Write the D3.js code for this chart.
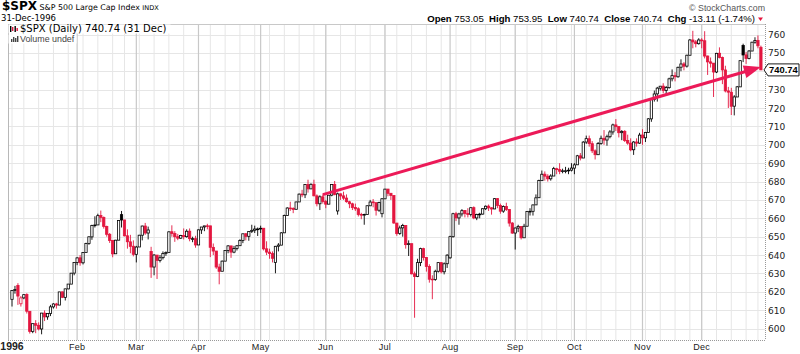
<!DOCTYPE html>
<html><head><meta charset="utf-8">
<script src="https://cdn.jsdelivr.net/npm/d3@7/dist/d3.min.js"></script>
<style>body{margin:0;background:#fff}svg{display:block}</style>
</head><body>
<svg id="c" width="800" height="354"></svg>
<script>
// ---- data ----
const holidays = ["1996-01-01","1996-02-19","1996-04-05","1996-05-27","1996-07-04","1996-09-02","1996-11-28","1996-12-25"];
const opens = [
615.93,620.73,623.50,613.50,616.70,618.50,609.40,598.50,602.70,601.80,599.80,608.40,606.40,608.20,611.80,613.40,612.80,620.00,617.00,621.60,624.20,630.20,
636.00,638.50,635.80,641.40,646.30,649.90,656.10,656.40,661.50,660.50,655.60,651.30,648.00,640.70,648.10,662.00,659.10,650.50,647.20,644.80,
640.40,644.40,650.80,655.80,652.00,642.00,633.50,640.00,637.10,638.60,640.90,641.40,652.70,651.70,650.00,649.20,650.60,650.00,653.00,648.90,648.90,
645.50,653.70,655.30,655.90,655.90,644.20,642.20,633.50,631.20,636.70,642.50,645.00,641.60,643.60,645.10,647.90,651.60,650.20,652.90,653.50,654.20,
654.20,654.60,643.40,641.60,640.80,636.00,644.80,645.40,652.10,661.50,665.60,665.40,664.90,668.90,673.20,672.80,678.40,676.00,678.50,672.20,667.90,671.70,
669.10,667.70,672.60,678.40,664.00,673.30,672.20,671.00,669.00,667.90,665.90,665.20,662.10,662.00,662.10,666.80,668.90,668.50,664.40,662.50,
670.60,675.90,673.60,672.40,657.40,651.70,654.80,656.10,645.70,646.20,629.80,628.40,635.90,643.50,638.70,633.80,626.90,626.70,631.20,635.90,630.90,635.30,
638.50,650.00,662.50,660.20,662.40,664.20,662.60,662.10,665.80,660.20,662.10,662.30,665.20,666.60,665.70,665.10,670.70,667.00,663.90,666.40,664.80,657.40,
652.00,654.70,655.60,649.40,655.70,663.80,663.80,667.30,671.20,680.50,684.00,682.90,681.50,683.00,687.00,686.50,685.60,685.80,685.90,686.20,
687.30,689.10,694.00,692.80,701.50,703.30,700.60,696.70,694.60,700.70,703.50,702.60,704.40,707.00,710.80,709.90,706.60,707.30,702.30,700.90,697.30,701.50,700.90,
705.30,703.80,706.70,714.10,724.60,727.70,730.80,731.90,729.60,731.10,735.90,737.60,737.00,742.20,744.00,742.80,748.70,757.00,756.00,755.00,
757.00,756.60,748.30,745.10,744.40,739.60,749.80,747.50,740.70,729.30,728.60,721.00,726.00,731.50,754.00,748.90,746.90,751.00,755.80,756.80,753.05];
const highs = [
620.74,623.25,624.70,617.70,618.70,619.20,609.40,602.70,604.60,603.40,608.50,609.90,608.30,612.90,613.80,614.00,620.00,620.10,621.70,624.20,630.30,636.20,
638.80,640.00,641.60,646.70,650.20,656.50,661.10,662.50,664.20,661.00,656.00,652.00,648.00,648.30,658.90,664.00,659.10,654.00,651.00,648.00,
645.00,651.00,656.00,657.50,655.50,644.50,640.50,640.00,640.00,642.00,642.00,652.90,656.20,653.00,651.50,651.00,654.50,654.00,654.50,650.00,650.50,
653.90,655.30,655.90,657.00,655.90,646.30,642.20,635.30,637.00,642.50,645.40,645.00,645.00,645.50,648.60,651.60,652.00,653.00,656.50,656.00,655.00,
656.00,654.60,647.50,643.50,642.00,645.00,646.50,652.50,662.00,666.00,669.00,666.00,669.00,673.50,675.50,678.50,681.00,679.00,681.00,673.00,672.50,673.00,
670.00,672.70,678.50,680.30,674.00,673.50,674.50,673.00,669.50,668.50,668.00,666.00,663.00,662.50,667.00,670.00,670.50,668.50,669.00,671.00,
676.00,676.00,673.80,672.40,657.50,656.00,657.00,656.10,648.00,646.20,631.00,638.00,644.00,644.00,638.80,635.00,629.00,632.00,636.00,636.00,636.00,640.50,
650.50,663.00,663.50,663.00,665.00,664.50,665.50,666.00,666.50,662.50,663.00,665.50,667.00,667.50,666.00,671.00,671.00,668.00,667.00,668.50,665.00,658.00,
655.00,656.50,655.60,657.00,664.00,665.50,667.50,673.00,681.00,686.00,685.50,684.00,684.00,688.00,687.50,690.00,687.00,688.00,687.50,690.00,
690.00,694.50,695.50,702.00,705.00,705.00,702.00,697.50,701.50,705.00,708.00,705.50,708.00,711.50,714.00,710.00,708.00,708.00,705.50,703.50,702.00,703.50,706.50,
708.50,707.00,714.50,725.00,729.50,731.50,732.00,733.50,732.00,736.50,741.00,739.50,742.50,746.50,745.00,749.00,757.50,762.00,757.00,758.00,
758.00,761.80,748.50,747.50,744.50,750.00,753.00,748.00,743.00,731.50,731.00,727.00,732.00,746.00,755.00,750.50,751.50,756.00,758.50,759.50,753.95];
const lows = [
612.00,619.00,612.90,612.00,616.00,608.20,597.30,597.50,597.50,599.00,596.90,604.10,604.80,606.80,610.90,610.90,612.80,616.60,615.30,621.40,624.20,629.00,
634.50,634.20,634.90,641.40,645.60,648.30,655.00,656.40,657.90,654.40,650.00,646.60,638.80,640.70,648.10,655.00,650.20,643.50,641.00,639.30,
636.00,644.40,648.00,651.00,648.50,627.60,629.00,627.00,636.00,637.60,639.60,641.40,650.00,647.20,648.10,648.80,648.50,649.50,647.50,647.00,644.00,
645.50,651.50,653.00,654.00,638.90,640.00,632.50,624.10,631.20,636.70,641.00,638.50,641.00,642.50,645.10,646.50,648.00,647.80,652.00,652.00,650.40,
652.00,642.50,640.00,638.00,636.00,630.10,642.00,645.40,652.10,661.50,664.00,662.80,664.90,668.90,671.50,671.00,674.00,676.00,672.00,666.50,664.50,668.00,
665.50,667.70,672.00,672.50,662.00,670.00,670.00,668.50,665.50,664.50,664.00,661.00,659.50,656.50,662.10,666.80,666.00,661.50,663.50,660.50,
670.60,672.00,670.00,657.00,650.50,651.00,650.00,643.50,639.50,629.50,605.90,628.00,634.00,637.00,631.00,625.00,616.00,626.00,630.50,630.00,629.50,633.00,
638.00,649.50,658.50,656.50,661.00,660.50,660.50,661.00,659.50,659.00,660.00,662.00,664.50,664.00,662.00,665.00,665.50,662.50,663.00,664.00,655.50,651.50,
643.00,652.50,648.50,649.40,655.50,661.50,661.50,667.30,671.20,680.50,680.50,680.00,680.50,683.00,684.00,684.00,684.50,684.50,684.00,685.50,
684.00,689.10,691.50,692.80,700.50,699.00,695.50,692.00,694.60,700.00,700.00,699.50,703.50,705.50,707.50,704.00,702.50,701.50,700.00,696.50,694.50,699.00,700.50,
700.00,701.50,706.70,712.50,723.50,723.50,729.50,728.00,727.50,730.50,734.50,734.50,736.50,740.00,740.50,742.00,748.70,752.50,753.00,754.50,
752.50,747.00,738.00,742.00,726.00,739.00,747.00,733.00,728.50,720.00,716.20,716.00,726.00,731.50,745.00,744.00,746.50,751.00,755.00,752.50,740.74];
const closes = [
620.73,621.32,617.70,616.71,618.46,609.45,598.48,602.69,601.81,599.82,608.44,606.37,608.24,611.83,613.40,612.79,619.96,617.03,621.62,624.22,630.15,636.02,
638.46,635.84,641.43,646.33,649.93,656.07,656.37,661.45,660.51,655.58,651.32,647.98,640.65,648.10,658.86,659.08,650.46,647.24,644.75,640.43,
644.37,650.81,655.79,652.00,653.65,633.50,640.02,637.09,638.55,640.87,641.43,652.65,651.69,649.98,649.19,650.62,650.04,652.97,648.91,648.94,645.50,
653.73,655.26,655.88,655.86,644.24,642.19,633.50,631.18,636.71,642.49,645.00,641.61,643.61,645.07,647.89,651.58,650.17,652.87,653.46,654.16,654.17,
654.58,643.38,641.63,640.81,638.26,644.77,645.44,652.09,661.51,665.60,665.42,664.85,668.91,673.15,672.76,678.42,676.00,678.51,672.23,667.93,671.70,669.12,
667.68,672.56,678.44,673.03,673.31,672.16,670.97,669.04,667.92,665.85,665.16,662.06,661.96,662.10,666.84,668.85,668.48,664.39,668.55,670.63,
675.88,673.61,672.40,657.44,651.65,654.75,656.06,645.67,646.19,629.80,628.37,635.90,643.51,638.73,633.77,626.87,626.65,631.17,635.90,630.91,635.26,639.95,
650.02,662.49,660.23,662.38,664.16,662.59,662.10,665.77,660.20,662.05,662.28,665.21,666.58,665.69,665.07,670.68,667.03,663.88,666.40,664.81,657.40,651.99,
654.72,655.61,649.44,655.68,663.76,663.81,667.28,671.15,680.54,683.98,682.94,681.47,683.00,687.03,686.48,685.61,685.83,685.86,686.19,687.33,
689.08,694.01,692.78,701.46,703.34,700.64,696.74,694.61,700.66,703.54,702.57,704.41,706.99,710.82,709.85,706.57,707.27,702.29,700.92,697.26,701.50,700.90,705.27,
703.77,706.73,714.14,724.59,727.65,730.82,731.87,729.56,731.13,735.88,737.62,737.02,742.16,743.95,742.75,748.73,757.03,755.96,755.00,757.02,
756.56,748.28,745.10,744.38,739.60,749.76,747.54,740.73,729.30,728.64,720.98,726.04,731.54,745.76,748.87,746.92,751.03,755.82,756.79,753.85,740.74];
const yTicks = [600,610,620,630,640,650,660,670,680,690,700,710,720,730,740,750,760];
const monthLabels = ["1996","Feb","Mar","Apr","May","Jun","Jul","Aug","Sep","Oct","Nov","Dec"];
const trendDates = ["1996-05-31","1996-12-31"];
const trendValues = [672.9, 742.3];
const lastClose = 740.74;

// ---- setup ----
const svg = d3.select("#c");
const P = {l:8, r:765, t:24, b:340};
const fmt = d3.utcFormat("%Y-%m-%d");
const hol = new Set(holidays);
const dates = d3.utcDay.range(new Date(Date.UTC(1996,0,1)), new Date(Date.UTC(1997,0,1)))
  .filter(d => d.getUTCDay()!==0 && d.getUTCDay()!==6 && !hol.has(fmt(d)));
const keys = dates.map(fmt);
const data = keys.map((k,i)=>({k, d:dates[i], o:opens[i], h:highs[i], l:lows[i], c:closes[i], pc: i? closes[i-1] : opens[i]}));

const x = d3.scalePoint().domain(keys).range([12, 760.9]);
const y = d3.scaleLinear().domain([600,760]).range([328.6, 34.5]);

const RED = "#e3163f", BLK = "#000";

// gridlines
const g = svg.append("g");
g.selectAll("line.h").data(yTicks).join("line")
  .attr("x1",P.l).attr("x2",P.r).attr("y1",d=>Math.round(y(d))+0.5).attr("y2",d=>Math.round(y(d))+0.5)
  .attr("stroke","#e6e6e6");
const weekStarts = data.filter((d,i)=> i===0 || d.d.getUTCDay() < data[i-1].d.getUTCDay());
const monthStarts = data.filter((d,i)=> i===0 || d.d.getUTCMonth() !== data[i-1].d.getUTCMonth());
g.selectAll("line.w").data(weekStarts).join("line")
  .attr("x1",d=>x(d.k)).attr("x2",d=>x(d.k)).attr("y1",P.t).attr("y2",P.b)
  .attr("stroke","#e6e6e6");
g.selectAll("line.m").data(monthStarts.slice(1)).join("line")
  .attr("x1",d=>x(d.k)).attr("x2",d=>x(d.k)).attr("y1",P.t).attr("y2",P.b)
  .attr("stroke","#c8c8c8").attr("stroke-width",1.2);

// frame
svg.append("line").attr("x1",P.l).attr("x2",P.r).attr("y1",P.t+0.5).attr("y2",P.t+0.5).attr("stroke","#c8c8c8");
svg.append("line").attr("x1",P.l+0.5).attr("x2",P.l+0.5).attr("y1",P.t).attr("y2",P.b).attr("stroke","#b8b8b8");
svg.append("line").attr("x1",P.r+0.5).attr("x2",P.r+0.5).attr("y1",P.t).attr("y2",P.b).attr("stroke","#999").attr("stroke-dasharray","1,1");
svg.append("line").attr("x1",P.l).attr("x2",P.r).attr("y1",P.b+0.5).attr("y2",P.b+0.5).attr("stroke","#999").attr("stroke-dasharray","1,1");

// candles
const bw = 2.3;
const cg = svg.append("g");
const col = d => d.c >= d.pc ? BLK : RED;
cg.selectAll("line.wick").data(data).join("line")
  .attr("x1",d=>x(d.k)).attr("x2",d=>x(d.k)).attr("y1",d=>y(d.h)).attr("y2",d=>y(d.l))
  .attr("stroke",col).attr("stroke-width",0.9);
cg.selectAll("rect").data(data).join("rect")
  .attr("x",d=>x(d.k)-bw/2).attr("width",bw)
  .attr("y",d=>y(Math.max(d.o,d.c)))
  .attr("height",d=>Math.max(0.7, Math.abs(y(d.o)-y(d.c))))
  .attr("fill",d=> d.c >= d.o ? "#fff" : col(d))
  .attr("stroke",col).attr("stroke-width",0.8);

// trend arrow
const ARW = "#ec1a58";
const x1 = x(trendDates[0]), y1 = y(trendValues[0]), x2 = x(trendDates[1]), y2 = y(trendValues[1]);
const ang = Math.atan2(y2-y1, x2-x1);
const L = 17, Wd = 6.5;
const bx = x2 - L*Math.cos(ang), by = y2 - L*Math.sin(ang);
svg.append("line").attr("x1",x1).attr("y1",y1).attr("x2",bx+2*Math.cos(ang)).attr("y2",by+2*Math.sin(ang))
  .attr("stroke",ARW).attr("stroke-width",3);
svg.append("path").attr("fill",ARW)
  .attr("d",`M${x2},${y2}L${bx - Wd*Math.sin(ang)},${by + Wd*Math.cos(ang)}L${bx + Wd*Math.sin(ang)},${by - Wd*Math.cos(ang)}Z`);

// y axis labels
svg.append("g").selectAll("text").data(yTicks.filter(v=>v!==740)).join("text")
  .attr("x",768).attr("y",d=>y(d)+3.5).text(d=>d)
  .attr("font-family","DejaVu Sans").attr("font-size",9).attr("fill","#222");
// last price tag
const ly = y(lastClose);
svg.append("path").attr("d",`M${764},${ly}L${768},${ly-6}L${799},${ly-6}L${799},${ly+6}L${768},${ly+6}Z`)
  .attr("fill","#fff").attr("stroke","#000").attr("stroke-width",0.9);
svg.append("text").attr("x",769).attr("y",ly+3.5).text(lastClose.toFixed(2))
  .attr("font-family","Liberation Sans").attr("font-weight","bold").attr("font-size",9.4).attr("fill","#000");

// x labels
svg.append("g").selectAll("text").data(monthStarts).join("text")
  .attr("x",d=>x(d.k)).attr("y",350).attr("text-anchor","middle")
  .text((d,i)=>monthLabels[i])
  .attr("font-family","Liberation Sans")
  .attr("font-weight",(d,i)=> i===0 ? "bold":"normal")
  .attr("font-size",(d,i)=> i===0 ? 10.5 : 9).attr("fill","#222")
  .attr("letter-spacing",(d,i)=> i===0 ? 0 : 0.3);

// header
const ht = svg.append("text").attr("x",2).attr("y",10).attr("font-family","DejaVu Sans").attr("fill","#000");
ht.append("tspan").text("$SPX").attr("font-weight","bold").attr("font-size",12);
ht.append("tspan").text(" S&P 500 Large Cap Index ").attr("font-size",7.9);
ht.append("tspan").text("INDX").attr("font-size",6.6);
svg.append("text").attr("x",1).attr("y",21).text("31-Dec-1996")
  .attr("font-family","DejaVu Sans").attr("font-size",8.5).attr("fill","#000");
svg.append("text").attr("x",765).attr("y",11).attr("text-anchor","end").text("\u00A9 StockCharts.com")
  .attr("font-family","Liberation Sans").attr("font-size",8.8).attr("fill","#555");
const oh = svg.append("text").attr("x",755).attr("y",21.5).attr("text-anchor","end")
  .attr("font-family","Liberation Sans").attr("font-size",9.6).attr("fill","#000").attr("xml:space","preserve");
[["Open"," 753.05  "],["High"," 753.95  "],["Low"," 740.74  "],["Close"," 740.74  "],["Chg"," -13.11 (-1.74%)"]].forEach(([a,b])=>{
  oh.append("tspan").text(a).attr("font-weight","bold");
  oh.append("tspan").text(b);
});
svg.append("path").attr("d","M758,17.5L763,17.5L760.5,21Z").attr("fill",RED);

// legend
const lg = svg.append("g");
lg.append("rect").attr("x",8.5).attr("y",24.5).attr("width",162).attr("height",9).attr("fill","#fff");
lg.append("rect").attr("x",8.5).attr("y",34.5).attr("width",68).attr("height",9).attr("fill","#fff");
[[10,26,6],[12,27,4],[14.5,26,6],[16.5,28,3]].forEach(([a,b,h],i)=>{
  lg.append("rect").attr("x",a).attr("y",b).attr("width",1.4).attr("height",h).attr("fill", i%2 ? RED : "#000");
});
[[11,39,3],[13,37,5],[15,38,4],[17,36,6]].forEach(([a,b,h])=>{
  lg.append("rect").attr("x",a).attr("y",b).attr("width",1.4).attr("height",h).attr("fill","#444");
});
lg.append("text").attr("x",20).attr("y",32).text("$SPX (Daily) 740.74 (31 Dec)")
  .attr("font-family","DejaVu Sans").attr("font-size",10).attr("fill","#000");
lg.append("text").attr("x",20).attr("y",42).text("Volume undef")
  .attr("font-family","Liberation Sans").attr("font-size",8.9).attr("fill","#444");
</script>
</body></html>
